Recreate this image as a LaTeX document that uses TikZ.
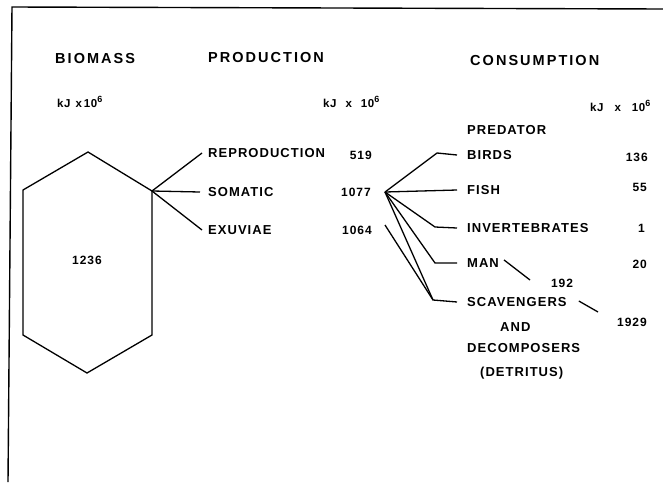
\documentclass[tikz,border=0pt]{standalone}
\usepackage{fontspec}
\setmainfont{Liberation Sans}
\newfontfamily\headfont{Liberation Sans}[LetterSpace=14]
\newfontfamily\labfont{Liberation Sans}[LetterSpace=8]
\newfontfamily\unitfont{Liberation Sans}[LetterSpace=5]
\newcommand{\sixup}{\raisebox{5pt}{\fontsize{9}{9}\selectfont 6}}
\begin{document}
\begin{tikzpicture}[x=1pt,y=-1pt,
  ln/.style={line width=1.3pt, line join=miter},
  head/.style={inner sep=0pt, anchor=west, text height=10.4pt, text depth=0pt,
    font=\headfont\bfseries\fontsize{14.5}{16}\selectfont},
  lab/.style={inner sep=0pt, anchor=west, text height=9.3pt, text depth=0pt,
    font=\labfont\bfseries\fontsize{13}{15}\selectfont},
  num/.style={inner sep=0pt, anchor=east, text height=8.6pt, text depth=0pt,
    font=\labfont\bfseries\fontsize{12}{14}\selectfont},
  unit/.style={inner sep=0pt, anchor=west, text height=8pt, text depth=0pt,
    font=\unitfont\bfseries\fontsize{11.5}{13}\selectfont}]
\useasboundingbox (0,0) rectangle (663,482);
\fill[white] (0,0) rectangle (663,482);

% frame
\draw[line width=1.4pt] (8,482) -- (12,7) -- (663,9);

% column headings
\node[head] (hbio)  at (55,58)  {BIOMASS};
\node[head] (hprod) at (208,57) {PRODUCTION};
\node[head] (hcons) at (470,60) {CONSUMPTION};

% units
\node[unit] (ubio)  at (57,103)  {kJ\hspace{5pt}x\hspace{2pt}10\sixup};
\node[unit] (uprod) at (323,103) {kJ\hspace{9pt}x\hspace{9pt}10\sixup};
\node[unit] (ucons) at (590,107) {kJ\hspace{11pt}x\hspace{11pt}10\sixup};

% biomass hexagon
\coordinate (hT)  at (88,152);
\coordinate (hUR) at (152,191);
\coordinate (hLR) at (152,335);
\coordinate (hB)  at (87,373);
\coordinate (hLL) at (23,335);
\coordinate (hUL) at (23,190);
\draw[ln] (hT) -- (hUR) -- (hLR) -- (hB) -- (hLL) -- (hUL) -- cycle;
\node[num, anchor=center] (bio) at (87,260) {1236};

% production branches
\node[lab] (repro) at (208,153) {REPRODUCTION};
\node[lab] (soma)  at (208,192) {SOMATIC};
\node[lab] (exuv)  at (208,230) {EXUVIAE};
\node[num] (nrepro) at (372,155) {519};
\node[num] (nsoma)  at (371,192) {1077};
\node[num] (nexuv)  at (372,230) {1064};
\draw[ln] (hUR) -- ([xshift=-6pt]repro.west);
\draw[ln] (hUR) -- ([xshift=-8pt]soma.west);
\draw[ln] (hUR) -- ([xshift=-6pt]exuv.west);

% consumption labels
\node[lab] (pred)  at (467,130) {PREDATOR};
\node[lab] (birds) at (467,155) {BIRDS};
\node[lab] (fish)  at (467,190) {FISH};
\node[lab] (invt)  at (467,228) {INVERTEBRATES};
\node[lab] (man)   at (467,263) {MAN};
\node[lab] (scav)  at (467,302) {SCAVENGERS};
\node[lab] (and)   at (500,327) {AND};
\node[lab] (decomp) at (467,348) {DECOMPOSERS};
\node[lab, text depth=2pt] (detr) at (480,373) {(DETRITUS)};

\node[num] (nbirds) at (648,157) {136};
\node[num] (nfish)  at (647,187) {55};
\node[num] (ninvt)  at (645,228) {1};
\node[num] (nman)   at (647,264) {20};
\node[num, anchor=center] (nmanb) at (562,283) {192};
\node[num] (nscav)  at (647,322) {1929};

% consumption fan
\coordinate (F)  at (385,192);
\coordinate (G)  at (385,225);
\coordinate (kb) at (437,153);
\coordinate (ki) at (435,227);
\coordinate (km) at (435,263);
\coordinate (ks) at (433,300);
\draw[ln] (F) -- (kb) -- ([xshift=-10pt]birds.west);
\draw[ln] (F) -- ([xshift=-10pt]fish.west);
\draw[ln] (F) -- (ki) -- ([xshift=-10pt]invt.west);
\draw[ln] (F) -- (km) -- ([xshift=-10pt]man.west);
\draw[ln] (F) -- (ks) -- ([xshift=-10pt]scav.west);
\draw[ln] (G) -- (ks);

% short leaders towards the detritus totals
\coordinate (lm) at (530,280);
\coordinate (ls) at (598,312);
\draw[ln] ([xshift=5pt,yshift=3pt]man.east) -- (lm);
\draw[ln] ([xshift=12pt,yshift=1pt]scav.east) -- (ls);
\end{tikzpicture}
\end{document}
